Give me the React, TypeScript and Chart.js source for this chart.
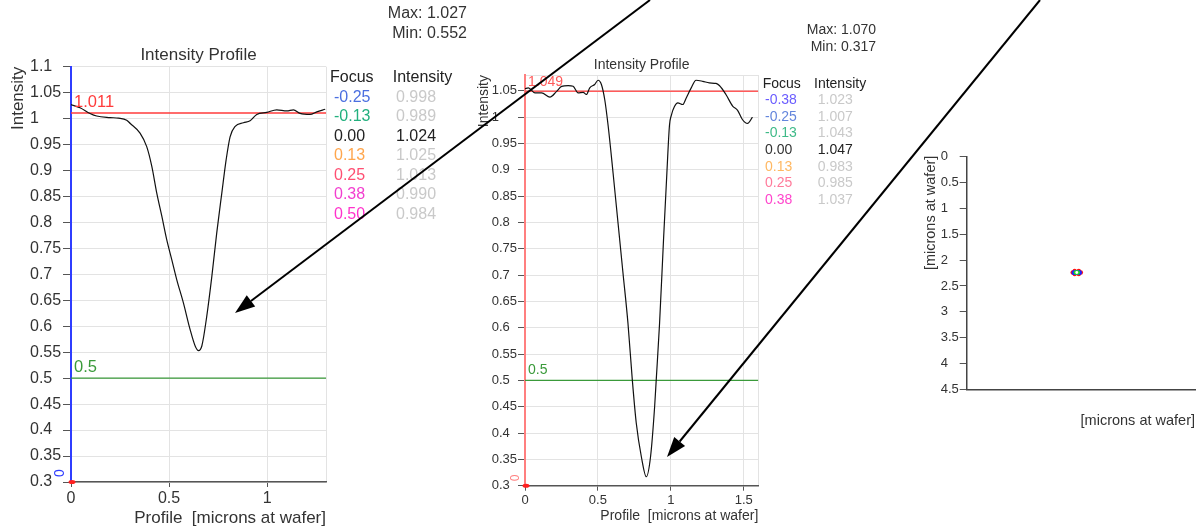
import React, { useEffect, useRef } from 'react';
import { Chart, registerables } from 'chart.js';

Chart.register(...registerables);

const FAMILY = '"Liberation Sans", Arial, Helvetica, sans-serif';
const W = 1199;
const H = 531;

// ---------- Left intensity profile ----------
const leftProfileX = [0, 0.046, 0.097, 0.131, 0.199, 0.242, 0.284, 0.301, 0.352, 0.386, 0.412, 0.437, 0.463, 0.488, 0.514, 0.539, 0.573, 0.607, 0.633, 0.650, 0.667, 0.692, 0.718, 0.743, 0.769, 0.791, 0.811, 0.837, 0.879, 0.913, 0.947, 0.998, 1.049, 1.10, 1.134, 1.168, 1.219, 1.253, 1.296];
const leftProfileY = [1.027, 1.021, 1.010, 1.005, 1.002, 1.001, 0.997, 0.991, 0.972, 0.946, 0.908, 0.857, 0.812, 0.767, 0.728, 0.690, 0.645, 0.594, 0.562, 0.553, 0.562, 0.619, 0.696, 0.780, 0.857, 0.921, 0.965, 0.985, 0.992, 0.996, 1.008, 1.012, 1.017, 1.015, 1.017, 1.010, 1.008, 1.013, 1.018];
const leftThreshold = 1.011;
const leftHalf = 0.5;
const leftXMax = 1.3;
const leftXTicks = [0, 0.5, 1];
const leftYTicks = [0.3, 0.35, 0.4, 0.45, 0.5, 0.55, 0.6, 0.65, 0.7, 0.75, 0.8, 0.85, 0.9, 0.95, 1, 1.05, 1.1];
const leftFocus = ['-0.25', '-0.13', '0.00', '0.13', '0.25', '0.38', '0.50'];
const leftFocusColors = ['#4b6fe0', '#22b07e', '#222222', '#ffa64d', '#ff4f72', '#f23fcf', '#ff33cc'];
const leftIntensity = ['0.998', '0.989', '1.024', '1.025', '1.013', '0.990', '0.984'];
const leftMax = '1.027';
const leftMin = '0.552';

// ---------- Right intensity profile ----------
const rightProfileX = [0, 0.023, 0.068, 0.114, 0.171, 0.217, 0.251, 0.296, 0.330, 0.364, 0.399, 0.421, 0.444, 0.478, 0.501, 0.524, 0.547, 0.570, 0.604, 0.638, 0.672, 0.706, 0.736, 0.763, 0.798, 0.832, 0.861, 0.889, 0.900, 0.923, 0.950, 0.973, 0.991, 1.003, 1.025, 1.048, 1.082, 1.105, 1.139, 1.173, 1.219, 1.264, 1.310, 1.333, 1.378, 1.424, 1.458, 1.492, 1.526, 1.560];
const rightProfileY = [1.054, 1.0555, 1.046, 1.046, 1.038, 1.049, 1.0585, 1.060, 1.0585, 1.046, 1.047, 1.043, 1.0555, 1.062, 1.070, 1.062, 1.033, 0.984, 0.894, 0.799, 0.704, 0.609, 0.501, 0.419, 0.355, 0.317, 0.355, 0.450, 0.501, 0.609, 0.767, 0.894, 0.985, 1.003, 1.020, 1.027, 1.024, 1.036, 1.055, 1.070, 1.068, 1.065, 1.064, 1.060, 1.043, 1.021, 1.013, 0.995, 0.988, 1.000];
const rightThreshold = 1.049;
const rightHalf = 0.5;
const rightXMax = 1.6;
const rightYMax = 1.08;
const rightXTicks = [0, 0.5, 1, 1.5];
const rightYTicks = [0.3, 0.35, 0.4, 0.45, 0.5, 0.55, 0.6, 0.65, 0.7, 0.75, 0.8, 0.85, 0.9, 0.95, 1, 1.05];
const rightFocus = ['-0.38', '-0.25', '-0.13', '0.00', '0.13', '0.25', '0.38'];
const rightFocusColors = ['#6a5cff', '#6486dc', '#3fba88', '#333333', '#ffb862', '#ff7b9b', '#ff45cc'];
const rightIntensity = ['1.023', '1.007', '1.043', '1.047', '0.983', '0.985', '1.037'];
const rightMax = '1.070';
const rightMin = '0.317';

// ---------- Spot map ----------
const mapXMax = 4.46;
const mapYTicks = [0, 0.5, 1, 1.5, 2, 2.5, 3, 3.5, 4, 4.5];
const spotRedX = [2.07, 2.11, 2.19, 2.23, 2.11, 2.19];
const spotRedY = [2.24, 2.21, 2.21, 2.24, 2.27, 2.27];
const spotBlueX = [2.10, 2.20, 2.15];
const spotBlueY = [2.24, 2.24, 2.24];
const spotGreenX = [2.13, 2.17];
const spotGreenY = [2.24, 2.24];
const spotWhiteX = [2.15];
const spotWhiteY = [2.24];

const fmt = (v: number) => String(Number(Number(v).toFixed(2)));
const pts = (xs: number[], ys: number[]) => xs.map((x, i) => ({ x, y: ys[i] }));

function txt(ctx: CanvasRenderingContext2D, s: string, x: number, y: number, size: number, color: string, align: CanvasTextAlign = 'left', rot = 0) {
  ctx.save();
  ctx.font = `${size}px ${FAMILY}`;
  ctx.fillStyle = color;
  ctx.textAlign = align;
  ctx.textBaseline = 'middle';
  ctx.translate(x, y);
  if (rot) ctx.rotate(rot);
  ctx.fillText(s, 0, 0);
  ctx.restore();
}

function table(ctx: CanvasRenderingContext2D, hx0: number, hx1: number, rx0: number, rx1: number, y0: number, ry0: number, dy: number, size: number, focus: string[], colors: string[], vals: string[]) {
  txt(ctx, 'Focus', hx0, y0, size, '#222');
  txt(ctx, 'Intensity', hx1, y0, size, '#222');
  focus.forEach((f, i) => {
    const y = ry0 + dy * i;
    txt(ctx, f, rx0, y, size, colors[i]);
    txt(ctx, vals[i], rx1, y, size, f === '0.00' ? '#222' : '#c9c9c9');
  });
}

function arrow(ctx: CanvasRenderingContext2D, x0: number, y0: number, x1: number, y1: number) {
  const ang = Math.atan2(y1 - y0, x1 - x0);
  const L = 20;
  const hw = 7;
  const bx = x1 - L * Math.cos(ang);
  const by = y1 - L * Math.sin(ang);
  ctx.save();
  ctx.strokeStyle = '#000';
  ctx.fillStyle = '#000';
  ctx.lineWidth = 2;
  ctx.beginPath();
  ctx.moveTo(x0, y0);
  ctx.lineTo(bx, by);
  ctx.stroke();
  ctx.beginPath();
  ctx.moveTo(x1, y1);
  ctx.lineTo(bx + hw * Math.sin(ang), by - hw * Math.cos(ang));
  ctx.lineTo(bx - hw * Math.sin(ang), by + hw * Math.cos(ang));
  ctx.closePath();
  ctx.fill();
  ctx.restore();
}

const GRID = '#e3e3e3';
const TICKTXT = '#333';

function profileConfig(o: any) {
  const extraX = o.xMax;
  const extraY = o.yMax;
  return {
    type: 'line',
    data: {
      datasets: [
        { data: pts(o.px, o.py), borderColor: '#111', borderWidth: 1.2, pointRadius: 0, cubicInterpolationMode: 'monotone', fill: false },
        { data: [{ x: 0, y: o.thr }, { x: o.xMax, y: o.thr }], borderColor: o.thrColor, borderWidth: 1.5, pointRadius: 0 },
        { data: [{ x: 0, y: o.half }, { x: o.xMax, y: o.half }], borderColor: '#3a9a3a', borderWidth: 1.2, pointRadius: 0 },
      ],
    },
    options: {
      responsive: false,
      animation: false,
      events: [],
      layout: { padding: { left: o.L - o.yW, top: o.T, right: W - o.R, bottom: H - o.B - o.xH } },
      plugins: { legend: { display: false }, tooltip: { enabled: false }, title: { display: false } },
      scales: {
        x: {
          type: 'linear',
          min: 0,
          max: o.xMax,
          afterBuildTicks: (s: any) => { s.ticks = o.xTicks.concat([extraX]).map((v: number) => ({ value: v })); },
          afterFit: (s: any) => { s.height = o.xH; },
          ticks: {
            font: { size: o.tickSize, family: FAMILY }, color: TICKTXT, padding: 2, maxRotation: 0, autoSkip: false,
            callback: (v: any) => (o.xTicks.includes(v) ? fmt(v) : ''),
          },
          grid: { color: GRID, tickLength: 5, tickColor: (c: any) => (c.tick && c.tick.value === extraX ? 'rgba(0,0,0,0)' : '#555') },
          border: { color: '#555', width: 1.5 },
          title: { display: true, text: 'Profile  [microns at wafer]', align: 'end', color: '#333', font: { size: o.xTitleSize, family: FAMILY }, padding: { top: 0, bottom: o.xTitlePad } },
        },
        y: {
          type: 'linear',
          min: 0.3,
          max: o.yMax,
          afterBuildTicks: (s: any) => {
            const t = o.yTicks.slice();
            if (!t.includes(extraY)) t.push(extraY);
            s.ticks = t.map((v: number) => ({ value: v }));
          },
          afterFit: (s: any) => { s.width = o.yW; },
          ticks: {
            font: { size: o.tickSize, family: FAMILY }, color: TICKTXT, padding: o.yPad, crossAlign: 'far', autoSkip: false,
            callback: (v: any) => (o.yTicks.includes(v) ? fmt(v) : ''),
          },
          grid: { color: GRID, tickLength: o.yTL, tickColor: (c: any) => (c.tick && !o.yTicks.includes(c.tick.value) ? 'rgba(0,0,0,0)' : '#555') },
          border: { color: o.axisColor, width: 2 },
        },
      },
    },
    plugins: [
      {
        id: 'decor' + o.id,
        afterDraw: (chart: any) => {
          const ctx = chart.ctx as CanvasRenderingContext2D;
          const a = chart.chartArea;
          const ys = chart.scales.y;
          txt(ctx, 'Intensity Profile', (a.left + a.right) / 2, o.titleY, o.titleSize, '#333', 'center');
          txt(ctx, 'Intensity', o.yTitleX, a.top, o.yTitleSize, '#333', 'right', -Math.PI / 2);
          txt(ctx, fmtThr(o.thr), a.left + 3, ys.getPixelForValue(o.thr) - o.labOff, o.labSize, o.thrColor);
          txt(ctx, fmt(o.half), a.left + 3, ys.getPixelForValue(o.half) - o.labOff - 1, o.labSize, '#3a9a3a');
          txt(ctx, '0', o.zeroX, o.zeroY, o.zeroSize, o.axisColor, 'center', -Math.PI / 2);
          ctx.save();
          ctx.fillStyle = '#ff2020';
          ctx.beginPath();
          ctx.ellipse(a.left + 1, a.bottom, 3.5, 2, 0, 0, Math.PI * 2);
          ctx.fill();
          ctx.restore();
          o.table(ctx);
          txt(ctx, 'Max: ' + o.max, o.mmX, o.maxY, o.mmSize, '#333', 'right');
          txt(ctx, 'Min: ' + o.min, o.mmX, o.minY, o.mmSize, '#333', 'right');
        },
      },
    ],
  };
}

const fmtThr = (v: number) => v.toFixed(3);

export default function App() {
  const r1 = useRef<HTMLCanvasElement>(null);
  const r2 = useRef<HTMLCanvasElement>(null);
  const r3 = useRef<HTMLCanvasElement>(null);

  useEffect(() => {
    const c1 = new Chart(r1.current as HTMLCanvasElement, profileConfig({
      id: 'L', px: leftProfileX, py: leftProfileY, thr: leftThreshold, half: leftHalf, thrColor: '#ff3b3b',
      xMax: leftXMax, yMax: 1.1, xTicks: leftXTicks, yTicks: leftYTicks,
      L: 71, T: 66.7, R: 326, B: 482, yW: 41, xH: 49, yPad: 1.9, yTL: 8,
      tickSize: 16, xTitleSize: 17, xTitlePad: 2.5, axisColor: '#2f3dff',
      titleY: 55, titleSize: 17, yTitleX: 18.2, yTitleSize: 17, labSize: 16.5, labOff: 10,
      zeroX: 60.5, zeroY: 473, zeroSize: 14,
      table: (ctx: CanvasRenderingContext2D) => table(ctx, 330, 392.7, 334, 396, 77.7, 97.3, 19.55, 16, leftFocus, leftFocusColors, leftIntensity),
      max: leftMax, min: leftMin, mmX: 467, maxY: 13.3, minY: 33.3, mmSize: 16,
    }) as any);

    const c2 = new Chart(r2.current as HTMLCanvasElement, profileConfig({
      id: 'R', px: rightProfileX, py: rightProfileY, thr: rightThreshold, half: rightHalf, thrColor: '#ff5a5a',
      xMax: rightXMax, yMax: rightYMax, xTicks: rightXTicks, yTicks: rightYTicks,
      L: 525, T: 75, R: 758.3, B: 485.7, yW: 33.3, xH: 45.3, yPad: 1, yTL: 7,
      tickSize: 13, xTitleSize: 14, xTitlePad: 6.6, axisColor: '#ff7f7f',
      titleY: 65, titleSize: 14, yTitleX: 484, yTitleSize: 14, labSize: 14, labOff: 9.5,
      zeroX: 516, zeroY: 478, zeroSize: 12,
      table: (ctx: CanvasRenderingContext2D) => table(ctx, 762.7, 814, 765, 817.7, 84, 100, 16.67, 14, rightFocus, rightFocusColors, rightIntensity),
      max: rightMax, min: rightMin, mmX: 876, maxY: 30, minY: 46.7, mmSize: 14,
    }) as any);

    const c3 = new Chart(r3.current as HTMLCanvasElement, {
      type: 'scatter',
      data: {
        datasets: [
          { data: pts(spotWhiteX, spotWhiteY), backgroundColor: '#ffffff', borderWidth: 0, pointRadius: 1.4 },
          { data: pts(spotGreenX, spotGreenY), backgroundColor: '#22dd22', borderWidth: 0, pointRadius: 2.2 },
          { data: pts(spotBlueX, spotBlueY), backgroundColor: '#2020ff', borderWidth: 0, pointRadius: 2.6 },
          { data: pts(spotRedX, spotRedY), backgroundColor: '#ff1010', borderWidth: 0, pointRadius: 2.2 },
        ],
      },
      options: {
        responsive: false,
        animation: false,
        events: [],
        layout: { padding: { left: 966.7 - 26, top: 156.7, right: W - 1197.7, bottom: 101.3 } },
        plugins: { legend: { display: false }, tooltip: { enabled: false } },
        scales: {
          x: {
            type: 'linear', min: 0, max: mapXMax,
            afterFit: (s: any) => { s.height = 40.4; },
            ticks: { display: false },
            grid: { display: false },
            border: { color: '#444', width: 1.5 },
            title: { display: true, text: '[microns at wafer]', align: 'end', color: '#333', font: { size: 14.5, family: FAMILY }, padding: { top: 0, bottom: 0 } },
          },
          y: {
            type: 'linear', min: 0, max: 4.5, reverse: true,
            afterBuildTicks: (s: any) => { s.ticks = mapYTicks.map((v) => ({ value: v })); },
            afterFit: (s: any) => { s.width = 26; },
            ticks: { font: { size: 13, family: FAMILY }, color: TICKTXT, padding: 1, crossAlign: 'far', autoSkip: false, callback: (v: any) => fmt(v) },
            grid: { drawOnChartArea: false, tickLength: 7, tickColor: '#555' },
            border: { color: '#444', width: 1.5 },
          },
        },
      },
      plugins: [
        {
          id: 'mapdecor',
          afterDraw: (chart: any) => {
            const ctx = chart.ctx as CanvasRenderingContext2D;
            txt(ctx, '[microns at wafer]', 930.7, chart.chartArea.top - 1, 14.5, '#333', 'right', -Math.PI / 2);
            arrow(ctx, 650, 0, 235, 313);
            arrow(ctx, 1040, 0, 667, 457);
          },
        },
      ],
    } as any);

    return () => {
      c1.destroy();
      c2.destroy();
      c3.destroy();
    };
  }, []);

  const cs: React.CSSProperties = { position: 'absolute', left: 0, top: 0, width: W, height: H };
  return (
    <div style={{ position: 'fixed', left: 0, top: 0, width: W, height: H, background: '#fff', overflow: 'hidden' }}>
      <canvas ref={r1} width={W} height={H} style={cs} />
      <canvas ref={r2} width={W} height={H} style={cs} />
      <canvas ref={r3} width={W} height={H} style={cs} />
    </div>
  );
}
